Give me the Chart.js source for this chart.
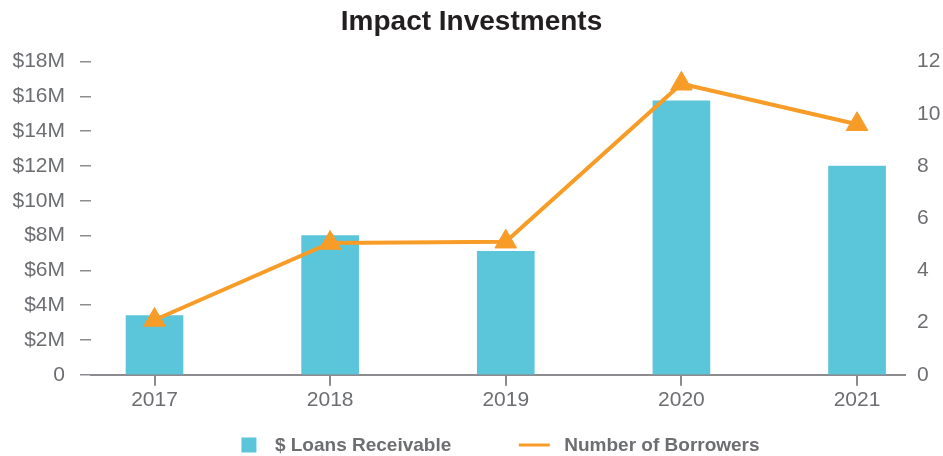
<!DOCTYPE html>
<html lang="en">
<head>
<meta charset="utf-8">
<title>Impact Investments</title>
<script src="https://cdn.jsdelivr.net/npm/chart.js@4.4.1/dist/chart.umd.min.js"></script>
<style>
    html, body { margin: 0; padding: 0; background: #fff; overflow: hidden; }
    canvas { display: block; }
</style>
</head>
<body>
<canvas id="impactChart" width="943" height="456"></canvas>
<script>
// Datos del gráfico
const anios = ['2017', '2018', '2019', '2020', '2021'];
const prestamos = [3400000, 8000000, 7100000, 15750000, 12000000];
const prestatarios = [2.1, 5.05, 5.1, 11.15, 9.6];
const ticksPrestamos = ['0', '$2M', '$4M', '$6M', '$8M', '$10M', '$12M', '$14M', '$16M', '$18M'];
const ticksPrestatarios = ['0', '2', '4', '6', '8', '10', '12'];

// Colores
const AZUL = '#5bc5da';
const NARANJA = '#f89c28';
const GRIS = '#6d6e71';
const LINEA_EJE = '#8c8c90';

Chart.defaults.font.family = "'Liberation Sans', Arial, sans-serif";

// Marcadores de la leyenda (caja azul y línea naranja)
function crearMarcador(tipo) {
    const c = document.createElement('canvas');
    c.width = 82;
    c.height = 19;
    const ctx = c.getContext('2d');
    if (tipo === 'caja') {
        ctx.fillStyle = AZUL;
        ctx.fillRect(58, 1, 15, 15);
    } else {
        ctx.strokeStyle = NARANJA;
        ctx.lineWidth = 3;
        ctx.beginPath();
        ctx.moveTo(46, 8.5);
        ctx.lineTo(77, 8.5);
        ctx.stroke();
    }
    return c;
}
const marcadores = [crearMarcador('caja'), crearMarcador('linea')];

// Inicializar gráfico
const ctx = document.getElementById('impactChart').getContext('2d');
new Chart(ctx, {
    type: 'bar',
    data: {
        datasets: [{
            type: 'bar',
            label: '$ Loans Receivable',
            data: prestamos.map((v, i) => ({ x: i, y: v })),
            backgroundColor: AZUL,
            barThickness: 57,
            yAxisID: 'y',
            order: 1
        }, {
            type: 'line',
            label: 'Number of Borrowers',
            data: prestatarios.map((v, i) => ({ x: i, y: v })),
            borderColor: NARANJA,
            backgroundColor: NARANJA,
            borderWidth: 4,
            tension: 0,
            pointStyle: 'triangle',
            pointRadius: 12.5,
            pointBorderWidth: 1,
            pointBackgroundColor: NARANJA,
            pointBorderColor: NARANJA,
            yAxisID: 'y1',
            order: 0
        }]
    },
    options: {
        responsive: false,
        animation: false,
        layout: { padding: { top: 0, left: 0, right: 0, bottom: -9.5 } },
        plugins: {
            tooltip: { enabled: false },
            title: {
                display: true,
                text: 'Impact Investments',
                color: '#231f20',
                font: { size: 28, weight: 'bold' },
                padding: { top: 5, bottom: 23 }
            },
            legend: {
                position: 'bottom',
                labels: {
                    usePointStyle: true,
                    pointStyleWidth: 82,
                    padding: 21.5,
                    color: GRIS,
                    font: { size: 19, weight: 'bold' },
                    generateLabels: (chart) => Chart.defaults.plugins.legend.labels.generateLabels(chart)
                        .sort((a, b) => a.datasetIndex - b.datasetIndex)
                        .map(item => ({ ...item, pointStyle: marcadores[item.datasetIndex] }))
                }
            }
        },
        scales: {
            x: {
                type: 'linear',
                min: -0.3616,
                max: 4.273,
                offset: false,
                afterBuildTicks: (scale) => {
                    scale.ticks = anios.map((_, i) => ({ value: i }));
                },
                ticks: {
                    padding: 2,
                    color: GRIS,
                    font: { size: 21 },
                    callback: (v) => anios[v] ?? ''
                },
                grid: {
                    drawOnChartArea: false,
                    offset: false,
                    tickLength: 11,
                    color: LINEA_EJE,
                    lineWidth: 2
                },
                border: { color: LINEA_EJE, width: 2 }
            },
            y: {
                position: 'left',
                min: 0,
                max: 18000000,
                afterFit: (scale) => { scale.width = 91; },
                ticks: {
                    stepSize: 2000000,
                    padding: 15,
                    color: GRIS,
                    font: { size: 21 },
                    callback: (v, i) => ticksPrestamos[i]
                },
                grid: {
                    drawOnChartArea: false,
                    tickLength: 11,
                    color: LINEA_EJE,
                    lineWidth: 1.5
                },
                border: { display: false }
            },
            y1: {
                position: 'right',
                min: 0,
                max: 12,
                afterFit: (scale) => { scale.width = 38; },
                ticks: {
                    stepSize: 2,
                    padding: 12,
                    color: GRIS,
                    font: { size: 21 },
                    callback: (v, i) => ticksPrestatarios[i]
                },
                grid: { display: false, drawTicks: false },
                border: { display: false }
            }
        }
    }
});
</script>
</body>
</html>
